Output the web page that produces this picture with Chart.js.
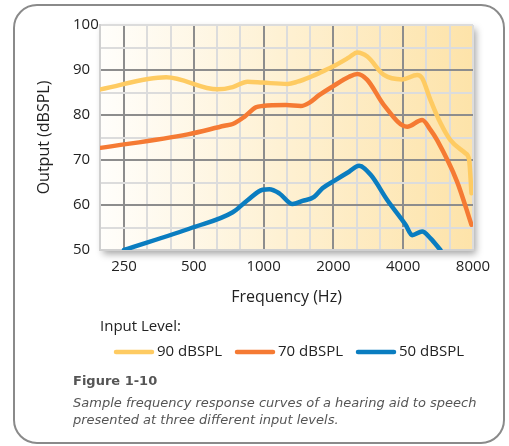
<!DOCTYPE html>
<html>
<head>
<meta charset="utf-8">
<script src="https://cdn.jsdelivr.net/npm/chart.js@4.4.1/dist/chart.umd.min.js"></script>
<style>
  body { margin: 0; background: #fff; }
  #wrap { position: relative; width: 509px; height: 446px; overflow: hidden; }
  #frame {
    position: absolute; left: 13px; top: 4px; width: 492px; height: 440px;
    border: 2px solid #8a8a8a; border-radius: 24px; box-sizing: border-box;
  }
  #myChart { position: absolute; left: 0; top: 0; }
  .fig { position: absolute; left: 73px; color: #555; font-family: "DejaVu Sans", sans-serif; }
  #figTitle { top: 373px; font-weight: bold; font-size: 13px; }
  #figText { top: 394px; font-style: italic; font-size: 13px; line-height: 17px; width: 430px; }
</style>
</head>
<body>
<div id="wrap">
  <div id="frame"></div>
  <canvas id="myChart" width="509" height="446"></canvas>
  <div class="fig" id="figTitle">Figure 1-10</div>
  <div class="fig" id="figText">Sample frequency response curves of a hearing aid to speech<br>presented at three different input levels.</div>
</div>
<script>
// values: frequency (Hz) and output (dBSPL)
const seriesNames = ['90 dBSPL', '70 dBSPL', '50 dBSPL'];
const seriesColors = ['#fecb62', '#f57a33', '#0a7dc0'];

const freqs90 = [198, 380, 634, 736, 853, 990, 1268, 1400, 1599, 1736, 1980, 2337, 2537, 2800, 3303, 3961, 4595, 4828, 5246, 5792, 6395, 7420, 7700, 7880];
const level90 = [85.7, 88.4, 85.7, 86.2, 87.4, 87.2, 86.9, 87.4, 88.5, 89.3, 90.7, 92.8, 93.9, 93.0, 88.9, 87.9, 88.9, 88.2, 83.3, 78.2, 74.4, 71.5, 70.0, 62.6];

const freqs70 = [198, 471, 678, 736, 826, 927, 990, 1248, 1448, 1572, 1736, 1980, 2337, 2537, 2800, 3303, 4161, 4828, 5246, 5602, 6828, 7880];
const level70 = [72.7, 75.7, 77.6, 78.0, 79.6, 81.7, 82.0, 82.2, 82.0, 82.7, 84.4, 86.3, 88.5, 89.1, 87.8, 82.2, 77.4, 78.9, 76.7, 74.4, 65.2, 55.6];

const freqs50 = [250, 494, 736, 850, 990, 1058, 1168, 1333, 1471, 1652, 1794, 2048, 2337, 2580, 2896, 3413, 4096, 4373, 4828, 5246, 5792];
const level50 = [50.0, 55.0, 58.4, 61.0, 63.4, 63.5, 62.6, 60.2, 60.9, 61.8, 63.7, 65.6, 67.4, 68.7, 66.7, 61.1, 55.6, 53.3, 54.1, 52.6, 50.0];

const xTickLabels = [250, 500, 1000, 2000, 4000, 8000];
const yTickLabels = [50, 60, 70, 80, 90, 100];

const uiFont = '"Open Sans", sans-serif';

function toPoints(xs, ys) {
    return xs.map((x, i) => ({x: x, y: ys[i]}));
}

// octave lines plus the two third-octave lines between them
function gridFreqs() {
    const out = [];
    xTickLabels.forEach((f, i) => {
        out.push(f);
        if (i < xTickLabels.length - 1) {
            out.push(f * Math.pow(2, 1 / 3));
            out.push(f * Math.pow(2, 2 / 3));
        }
    });
    return out;
}

const plotBackground = {
    id: 'plotBackground',
    beforeDraw(chart) {
        const {ctx, chartArea: a} = chart;
        ctx.save();
        const g = ctx.createLinearGradient(a.left, 0, a.right, 0);
        g.addColorStop(0, '#fffefb');
        g.addColorStop(1, '#fde3a9');
        ctx.shadowColor = 'rgba(0,0,0,0.35)';
        ctx.shadowBlur = 7;
        ctx.shadowOffsetX = 3;
        ctx.shadowOffsetY = 4;
        ctx.fillStyle = g;
        ctx.fillRect(a.left, a.top, a.right - a.left, a.bottom - a.top);
        ctx.restore();
    }
};

const inputLegend = {
    id: 'inputLegend',
    afterDraw(chart) {
        const ctx = chart.ctx;
        ctx.save();
        ctx.font = '15px ' + uiFont;
        ctx.fillStyle = '#222';
        ctx.textBaseline = 'middle';
        ctx.fillText('Input Level:', 100, 327);
        let x = 114;
        const y = 352;
        chart.data.datasets.forEach(ds => {
            ctx.strokeStyle = ds.borderColor;
            ctx.lineWidth = 4.5;
            ctx.lineCap = 'round';
            ctx.beginPath();
            ctx.moveTo(x + 2, y);
            ctx.lineTo(x + 38, y);
            ctx.stroke();
            ctx.fillStyle = '#222';
            ctx.fillText(ds.label, x + 43, y);
            x = x + 43 + ctx.measureText(ds.label).width + 13;
        });
        ctx.restore();
    }
};

function generateChart(target) {
    const sets = [[freqs90, level90], [freqs70, level70], [freqs50, level50]];
    const chart = new Chart(target, {
        type: 'line',
        data: {
            datasets: sets.map((s, i) => ({
                label: seriesNames[i],
                data: toPoints(s[0], s[1]),
                borderColor: seriesColors[i],
                backgroundColor: seriesColors[i],
                borderWidth: 4.5,
                borderCapStyle: 'round',
                borderJoinStyle: 'round',
                pointRadius: 0,
                cubicInterpolationMode: 'monotone',
                fill: false
            }))
        },
        options: {
            responsive: false,
            animation: false,
            layout: { padding: { left: 73, right: 36, top: 25, bottom: 136 } },
            plugins: {
                legend: { display: false },
                tooltip: { enabled: false }
            },
            scales: {
                x: {
                    type: 'logarithmic',
                    min: 197,
                    max: 8000,
                    afterBuildTicks: scale => {
                        scale.ticks = gridFreqs().map(v => ({value: v}));
                    },
                    afterFit: scale => { scale.height = 60; },
                    grid: {
                        drawTicks: false,
                        lineWidth: 2,
                        color: c => (c.index % 3 === 0 && c.index !== 15) ? '#8d8d8d' : '#dcdcdc'
                    },
                    border: { color: '#d0d0d0', width: 2 },
                    ticks: {
                        autoSkip: false,
                        maxRotation: 0,
                        padding: 8,
                        color: '#222',
                        font: { family: uiFont, size: 15 },
                        callback: (v, i) => (i % 3 === 0) ? String(xTickLabels[i / 3]) : ''
                    },
                    title: {
                        display: true,
                        text: 'Frequency (Hz)',
                        color: '#222',
                        font: { family: uiFont, size: 16 },
                        padding: { top: 0, bottom: 3 }
                    }
                },
                y: {
                    min: 50,
                    max: 100,
                    afterFit: scale => { scale.width = 27; },
                    grid: {
                        drawTicks: false,
                        lineWidth: 2,
                        color: c => {
                            const v = c.tick.value;
                            return (v % 10 === 0 && v !== 50 && v !== 100) ? '#8d8d8d' : '#dcdcdc';
                        }
                    },
                    border: { color: '#d0d0d0', width: 2 },
                    ticks: {
                        stepSize: 5,
                        padding: 3,
                        crossAlign: 'far',
                        color: '#222',
                        font: { family: uiFont, size: 15 },
                        callback: v => yTickLabels.includes(v) ? String(v) : ''
                    },
                    title: {
                        display: true,
                        text: 'Output (dBSPL)',
                        color: '#222',
                        font: { family: uiFont, size: 16 },
                        // pulls the title out to the left of the tick labels
                        padding: { top: -38, bottom: 0 }
                    }
                }
            }
        },
        plugins: [plotBackground, inputLegend]
    });
    return chart;
}

document.addEventListener('DOMContentLoaded', () => {
    generateChart(document.querySelector('#myChart'));
});
</script>
</body>
</html>
